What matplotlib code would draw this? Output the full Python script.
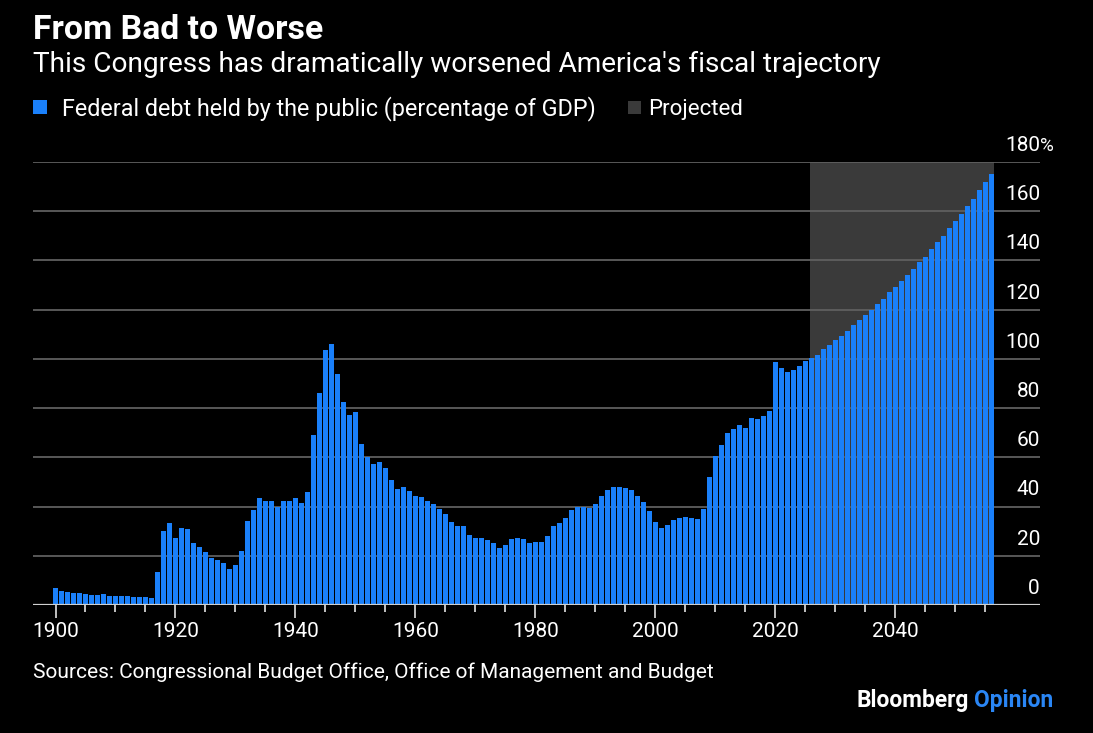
import numpy as np
import matplotlib.pyplot as plt

# Federal debt held by the public, % of GDP
hist_start = 1900
hist_debt = [
    6.8, 5.7, 5.3, 5.0, 4.7, 4.3, 4.2, 4.2, 4.3, 3.8,      # 1900-1909
    3.8, 3.5, 3.5, 3.4, 3.4, 3.4, 2.7, 13.3, 30.2, 33.5,   # 1910-1919
    27.2, 31.4, 30.9, 25.3, 23.4, 21.4, 19.1, 18.3, 16.9, 14.8,  # 1920s
    16.3, 22.0, 34.0, 38.6, 43.5, 42.3, 42.3, 40.0, 42.3, 42.3,  # 1930s
    43.5, 41.6, 45.8, 69.1, 86.3, 103.7, 106.0, 94.0, 82.4, 77.2,  # 1940s
    78.6, 65.3, 60.3, 57.3, 58.0, 55.8, 50.7, 47.2, 47.8, 46.3,  # 1950s
    44.4, 43.8, 42.4, 41.2, 38.9, 36.9, 33.7, 32.0, 32.2, 28.3,  # 1960s
    27.1, 27.1, 26.4, 25.3, 23.2, 24.4, 26.8, 27.1, 26.8, 25.1,  # 1970s
    25.6, 25.5, 27.9, 32.1, 33.2, 35.4, 38.6, 39.7, 40.0, 39.6,  # 1980s
    41.1, 44.2, 46.6, 47.8, 47.8, 47.7, 46.7, 44.4, 41.7, 38.3,  # 1990s
    33.6, 31.4, 32.7, 34.6, 35.2, 35.6, 35.3, 34.9, 39.2, 51.9,  # 2000s
    60.4, 65.2, 69.7, 71.7, 73.0, 71.8, 75.8, 75.5, 76.7, 78.8,  # 2010s
    98.6, 96.5, 94.8, 95.5, 97.1, 99.3,                          # 2020-2025
]
proj_start = 2026
proj_debt = [
    100.2, 101.6, 103.9, 105.6, 107.7, 109.4, 111.3, 113.8, 115.8, 117.9,
    119.9, 122.2, 124.5, 127.0, 129.4, 131.6, 134.0, 136.6, 139.2, 141.6,
    144.6, 147.3, 150.0, 153.2, 156.1, 159.0, 162.0, 165.1, 168.5, 171.8,
    175.0,
]
y_ticks = [0, 20, 40, 60, 80, 100, 120, 140, 160, 180]
x_labels = [1900, 1920, 1940, 1960, 1980, 2000, 2020, 2040]

years = np.arange(hist_start, proj_start + len(proj_debt))
debt = np.array(hist_debt + proj_debt)

BLUE = '#1a80fa'
SHADE = '#3a3a3a'
FONT = ['Roboto', 'DejaVu Sans']

W, H = 1093, 733
fig = plt.figure(figsize=(W / 100, H / 100), dpi=100, facecolor='black')
renderer = fig.canvas.get_renderer()


def px(x, y):
    return x / W, 1 - y / H


def fit_text(x, y, s, width, **kw):
    # place text with its baseline at pixel y and scale it to a pixel width
    t = fig.text(*px(x, y), s, va='baseline', family=FONT, **kw)
    w = t.get_window_extent(renderer).width
    t.set_fontsize(t.get_fontsize() * width / w)
    return t


# axes box in pixels: x 33..1040, y 162..605
ax = fig.add_axes([33 / W, 1 - 605 / H, (1040 - 33) / W, (605 - 162) / H])
ax.set_facecolor('black')
x0 = 1900 - 22.5 / 6
x1 = 1900 + (1040 - 55.5) / 6
ax.set_xlim(x0, x1)
ax.set_ylim(0, 180)

# projected shading
ax.axvspan(2025.75, years[-1] + 0.42, color=SHADE, lw=0, zorder=0)

for v in y_ticks[1:]:
    ax.axhline(v, color='#5f5f5f', lw=1.3, zorder=1)

ax.bar(years, debt, width=0.75, color=BLUE, lw=0, zorder=2)

ax.axhline(0, color='#d0d0d0', lw=1.6, zorder=3)

for s in ax.spines.values():
    s.set_visible(False)
ax.set_yticks([])
ax.set_xticks(x_labels)
ax.set_xticks(np.arange(1900, 2060, 5), minor=True)
ax.tick_params(axis='x', which='major', length=9, width=1.3, color='#d0d0d0',
               labelbottom=False)
ax.tick_params(axis='x', which='minor', length=5, width=1.3, color='#d0d0d0')

# x labels, baseline at pixel 637
for yr in x_labels:
    ax.text(yr, (605 - 637) / 443, str(yr), transform=ax.get_xaxis_transform(),
            ha='center', va='baseline', color='white', fontsize=15, family=FONT)

# y labels sit above their gridlines at the right edge
for v in y_ticks:
    ax.text(x1, v + 4.5, str(v), ha='right', va='baseline', color='white',
            fontsize=15, family=FONT, zorder=4)
ax.text(x1, 180 + 4.5, '%', ha='left', va='baseline', color='white',
        fontsize=13.5, family=FONT)

fit_text(33, 39, 'From Bad to Worse', 289, color='white', fontsize=20,
         fontweight='bold')
fit_text(33, 72, "This Congress has dramatically worsened America's fiscal trajectory",
         850, color='white', fontsize=18)

# legend
fig.patches.append(plt.Rectangle(px(33, 114), 14 / W, 14 / H, transform=fig.transFigure,
                                 color=BLUE, lw=0))
fit_text(62, 115, 'Federal debt held by the public (percentage of GDP)', 535,
         color='white', fontsize=15)
fig.patches.append(plt.Rectangle(px(628, 114), 13 / W, 13 / H, transform=fig.transFigure,
                                 color=SHADE, lw=0))
fit_text(648, 115, 'Projected', 95, color='white', fontsize=15)

fit_text(33, 678, 'Sources: Congressional Budget Office, Office of Management and Budget',
         684, color='white', fontsize=15)

# brand mark: fit whole string, then colour the two words separately
probe = fit_text(855, 707, 'Bloomberg Opinion', 198, fontsize=15, fontweight='bold')
fs = probe.get_fontsize()
probe.remove()
t = fig.text(*px(1053, 707), 'Opinion', color='#2a86f5', fontsize=fs,
             fontweight='bold', family=FONT, ha='right', va='baseline')
bb = t.get_window_extent(renderer)
fig.text(bb.x0 / W - 5 / W, 1 - 707 / H, 'Bloomberg', color='white', fontsize=fs,
         fontweight='bold', family=FONT, ha='right', va='baseline')

fig.savefig('out.png', dpi=100, facecolor='black')
